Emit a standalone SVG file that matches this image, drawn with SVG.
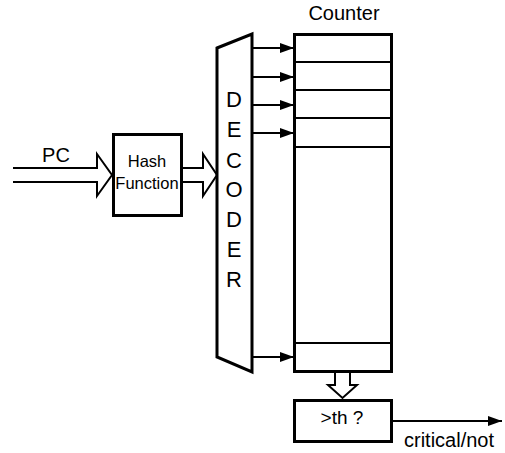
<svg xmlns="http://www.w3.org/2000/svg" width="505" height="453" viewBox="0 0 505 453">
<defs>
<marker id="ah" markerWidth="14" markerHeight="10" refX="14" refY="5" orient="auto" markerUnits="userSpaceOnUse">
<path d="M0,0 L14,5 L0,10 Z" fill="#000"/>
</marker>
<style>
text{font-family:"Liberation Sans",Arial,sans-serif;fill:#000}
.box{fill:#fff;stroke:#000;stroke-width:3}
.row{stroke:#000;stroke-width:2}
.arr{stroke:#000;stroke-width:2;fill:none}
.hollow{stroke:#000;stroke-width:2;fill:none;stroke-linejoin:miter}
</style>
</defs>
<rect width="505" height="453" fill="#fff"/>
<g id="connectors">
<path class="hollow" d="M13,168 H97 V154 L112,175 L97,196 V182 H13"/>
<path class="hollow" d="M182,168 H203 V154 L217,175 L203,196 V182 H182"/>
<path class="hollow" d="M335,372 V385 H328 L342.5,398 L357,385 H350 V372"/>
<line class="arr" x1="252" y1="48" x2="294" y2="48" marker-end="url(#ah)"/>
<line class="arr" x1="252" y1="77" x2="294" y2="77" marker-end="url(#ah)"/>
<line class="arr" x1="252" y1="105" x2="294" y2="105" marker-end="url(#ah)"/>
<line class="arr" x1="252" y1="133" x2="294" y2="133" marker-end="url(#ah)"/>
<line class="arr" x1="252" y1="357" x2="294" y2="357" marker-end="url(#ah)"/>
<line class="arr" x1="392" y1="421" x2="502" y2="421" marker-end="url(#ah)"/>
</g>
<g id="pc-label"><text x="56" y="162" font-size="20" text-anchor="middle">PC</text></g>
<g id="hash">
<rect class="box" x="113.5" y="134.5" width="68" height="81"/>
<text x="147" y="167" font-size="16.5" text-anchor="middle">Hash</text>
<text x="147" y="189" font-size="16.5" text-anchor="middle">Function</text>
</g>
<g id="decoder">
<path class="box" d="M217,48 L252,34 L252,372 L217,357 Z"/>
<g font-size="22" text-anchor="middle">
<text x="234" y="107">D</text>
<text x="234" y="137">E</text>
<text x="234" y="168">C</text>
<text x="234" y="197">O</text>
<text x="234" y="227">D</text>
<text x="234" y="257">E</text>
<text x="234" y="287">R</text>
</g>
</g>
<g id="counter">
<text x="344" y="20" font-size="20" text-anchor="middle">Counter</text>
<rect class="box" x="294.5" y="34.5" width="97" height="337"/>
<line class="row" x1="295" y1="62" x2="391" y2="62"/>
<line class="row" x1="295" y1="90" x2="391" y2="90"/>
<line class="row" x1="295" y1="118" x2="391" y2="118"/>
<line class="row" x1="295" y1="147" x2="391" y2="147"/>
<line class="row" x1="295" y1="343" x2="391" y2="343"/>
</g>
<g id="threshold">
<rect class="box" x="294.5" y="400.5" width="97" height="41"/>
<text x="342" y="424" font-size="19" text-anchor="middle">&gt;th ?</text>
</g>
<g id="output-label"><text x="449" y="447" font-size="20" text-anchor="middle">critical/not</text></g>
</svg>
